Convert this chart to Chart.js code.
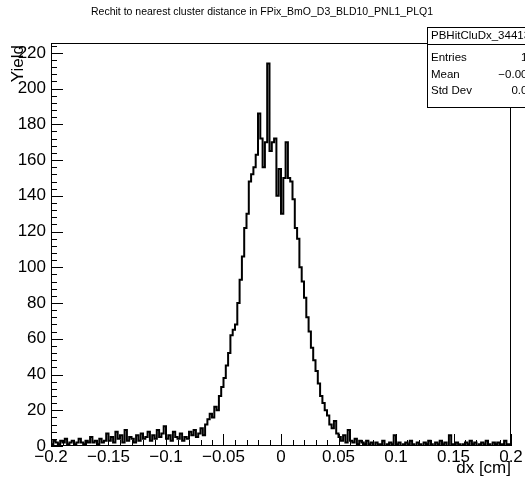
<!DOCTYPE html>
<html>
<head>
<meta charset="utf-8">
<script src="https://cdn.jsdelivr.net/npm/chart.js@4.4.1/dist/chart.umd.min.js"></script>
<style>
  html, body { margin: 0; padding: 0; background: #fff; }
  #wrap { width: 525px; height: 481px; }
</style>
</head>
<body>
<div id="wrap"><canvas id="histChart" width="525" height="481"></canvas></div>
<script>
// histogram binning: 200 bins from -0.2 to 0.2 cm
const binLow = -0.2;
const binWidth = 0.002;

// counts, bin by bin
const leftTail = [
  2, 1, 3, 2, 1, 3, 2, 4, 1, 2,
  3, 1, 2, 4, 2, 1, 3, 2, 5, 2,
  3, 1, 4, 2, 3, 7, 3, 5, 2, 8,
  4, 6, 2, 9, 3, 5, 4, 2, 6, 3,
  7, 4, 5, 8, 3, 6, 4, 9, 5, 7,
  11, 4, 6, 3, 8, 5, 4, 7, 3, 5,
  4, 8, 6, 9, 5, 7, 10, 6, 12, 15
];
const core = [
  18, 16, 22, 20, 28, 33, 38, 45, 52, 62,
  65, 68, 80, 93, 106, 122, 130, 148, 152, 156,
  163, 186, 172, 156, 170, 214, 165, 170, 172, 140,
  155, 130, 150, 170, 150, 148, 138, 122, 116, 100,
  92, 83, 72, 64, 55, 48, 42, 35, 28, 24,
  20, 17, 12, 10, 14, 7, 5, 3, 6, 2,
  9, 3, 2, 4, 1, 3
];
const rightTail = [
  2, 1, 3, 1, 2, 0, 2, 1, 1, 3,
  0, 1, 2, 1, 6, 1, 2, 0, 1, 2,
  1, 3, 1, 0, 2, 1, 0, 2, 1, 3,
  1, 0, 2, 1, 3, 1, 2, 0, 6, 1,
  0, 2, 1, 0, 1, 2, 1, 3, 1, 2,
  0, 1, 2, 1, 3, 1, 0, 2, 1, 2,
  0, 1, 3, 1
];
const counts = leftTail.concat(core, rightTail);

const xTicks = [-0.2, -0.15, -0.1, -0.05, 0, 0.05, 0.1, 0.15, 0.2];
const xTickLabels = ['\u22120.2', '\u22120.15', '\u22120.1', '\u22120.05', '0', '0.05', '0.1', '0.15', '0.2'];
const yTicks = [0, 20, 40, 60, 80, 100, 120, 140, 160, 180, 200, 220];

const histTitle = 'Rechit to nearest cluster distance in FPix_BmO_D3_BLD10_PNL1_PLQ1';
const statsName = 'PBHitCluDx_344130562';
const statsLabels = ['Entries', 'Mean', 'Std Dev'];
const statsValues = ['10183', '\u22120.006152', '0.02366'];

const points = counts.map((c, i) => ({ x: binLow + i * binWidth, y: c }));
points.push({ x: binLow + counts.length * binWidth, y: counts[counts.length - 1] });

const FONT = '"Liberation Sans", Arial, sans-serif';
Chart.defaults.font.family = FONT;
Chart.defaults.color = '#000';

// ROOT-like frame, inward ticks, titles and stats box
const rootFrame = {
  id: 'rootFrame',
  afterDatasetsDraw(chart) {
    const { ctx, chartArea: a, scales: { x, y } } = chart;
    ctx.save();
    ctx.strokeStyle = '#000';
    ctx.lineWidth = 1;
    ctx.strokeRect(a.left + 0.5, a.top + 0.5, a.right - a.left - 1, a.bottom - a.top - 1);

    ctx.beginPath();
    for (let k = 0; k <= 40; k++) {
      const px = Math.round(x.getPixelForValue(-0.2 + k * 0.01)) + 0.5;
      const len = k % 5 === 0 ? 12 : 6;
      ctx.moveTo(px, a.bottom);
      ctx.lineTo(px, a.bottom - len);
    }
    for (let v = 0; v <= y.max; v += 4) {
      const py = Math.round(y.getPixelForValue(v)) + 0.5;
      const len = v % 20 === 0 ? 12 : 6;
      ctx.moveTo(a.left, py);
      ctx.lineTo(a.left + len, py);
    }
    ctx.stroke();

    // title
    ctx.fillStyle = '#000';
    ctx.font = '10.5px ' + FONT;
    ctx.textAlign = 'center';
    ctx.textBaseline = 'middle';
    ctx.fillText(histTitle, 262, 12);

    // axis titles
    ctx.font = '17px ' + FONT;
    ctx.textAlign = 'right';
    ctx.fillText('dx [cm]', a.right, 468);
    ctx.save();
    ctx.translate(18, a.top + 2);
    ctx.rotate(-Math.PI / 2);
    ctx.textAlign = 'right';
    ctx.fillText('Yield', 0, 0);
    ctx.restore();

    // stats box
    const bx = 427, by = 27, bw = 140, bh = 80;
    ctx.fillStyle = '#fff';
    ctx.fillRect(bx, by, bw, bh);
    ctx.strokeRect(bx + 0.5, by + 0.5, bw, bh);
    ctx.beginPath();
    ctx.moveTo(bx, by + 17.5);
    ctx.lineTo(bx + bw, by + 17.5);
    ctx.stroke();
    ctx.fillStyle = '#000';
    ctx.font = '11.5px ' + FONT;
    ctx.textAlign = 'left';
    ctx.fillText(statsName, bx + 4, by + 9);
    statsLabels.forEach((lab, i) => {
      const ty = by + 31 + i * 16.5;
      ctx.textAlign = 'left';
      ctx.fillText(lab, bx + 4, ty);
      ctx.textAlign = 'right';
      ctx.fillText(statsValues[i], 553, ty);
    });
    ctx.restore();
  }
};

new Chart(document.getElementById('histChart'), {
  type: 'line',
  data: {
    datasets: [{
      data: points,
      borderColor: '#000',
      borderWidth: 2,
      pointRadius: 0,
      stepped: 'after',
      fill: false
    }]
  },
  options: {
    responsive: false,
    animation: false,
    layout: { padding: { top: 43, right: 14, left: 0, bottom: 0 } },
    plugins: { legend: { display: false }, tooltip: { enabled: false }, title: { display: false } },
    scales: {
      x: {
        type: 'linear',
        min: -0.2,
        max: 0.2,
        grid: { display: false, drawTicks: false },
        border: { display: false },
        afterFit: s => { s.height = 35; },
        afterBuildTicks: s => { s.ticks = xTicks.map(v => ({ value: v })); },
        ticks: {
          padding: 1,
          maxRotation: 0,
          autoSkip: false,
          font: { size: 17 },
          callback: (v) => xTickLabels[xTicks.findIndex(t => Math.abs(t - v) < 1e-9)]
        }
      },
      y: {
        min: 0,
        max: 225.5,
        grid: { display: false, drawTicks: false },
        border: { display: false },
        afterFit: s => { s.width = 51; },
        afterBuildTicks: s => { s.ticks = yTicks.map(v => ({ value: v })); },
        ticks: { padding: 5, autoSkip: false, font: { size: 17 } }
      }
    }
  },
  plugins: [rootFrame]
});
</script>
</body>
</html>
